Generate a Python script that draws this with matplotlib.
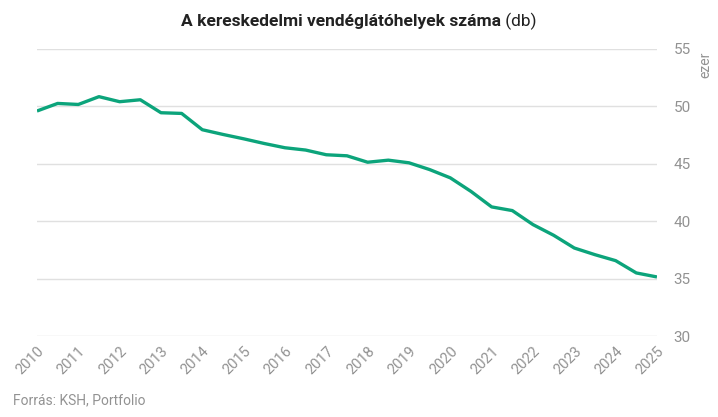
import matplotlib
matplotlib.use("Agg")
import matplotlib.pyplot as plt
import numpy as np

years = [2010 + 0.5 * i for i in range(31)]
values = [49.6, 50.26, 50.17, 50.85, 50.41, 50.58, 49.45, 49.39, 47.97, 47.56,
          47.18, 46.77, 46.4, 46.2, 45.79, 45.7, 45.14, 45.32, 45.09, 44.5,
          43.78, 42.6, 41.25, 40.93, 39.71, 38.78, 37.67, 37.09, 36.57, 35.5, 35.15]
xtick_labels = [str(y) for y in range(2010, 2026)]
yticks = [30, 35, 40, 45, 50, 55]

plt.rcParams['font.family'] = ['Roboto', 'DejaVu Sans']

fig = plt.figure(figsize=(7.18, 4.17), dpi=100)
ax = fig.add_axes([0.0515, 0.194, 0.915 - 0.0515, 0.8825 - 0.194])

ax.plot(years, values, color='#0ca47b', lw=2.4, solid_capstyle='butt', zorder=3)

ax.set_ylim(30, 55)
ax.set_xlim(2010, 2025)
ax.set_yticks(yticks)
ax.yaxis.tick_right()
ax.grid(axis='y', color='#e0e0e0', lw=1)
ax.set_axisbelow(True)
for s in ax.spines.values():
    s.set_visible(False)
ax.tick_params(axis='y', length=0, pad=12, labelsize=11, labelcolor='#929292')
ax.set_xticks(range(2010, 2026))
ax.set_xticklabels(xtick_labels, rotation=45, ha='right', rotation_mode='anchor')
ax.tick_params(axis='x', length=0, pad=6, labelsize=10.5, labelcolor='#929292')

fig.text(0.982, 0.845, 'ezer', rotation=90, ha='center', va='center', fontsize=10, color='#929292')

t1 = fig.text(0.5, 0.948, 'A kereskedelmi vendéglátóhelyek száma', ha='right', va='center',
              fontsize=12.5, fontweight='bold', color='#222222')
tx = fig.text(0.5, 0.948, ' (db)', ha='left', va='center', fontsize=12.5, color='#222222')
fig.canvas.draw()
bb = t1.get_window_extent()
bb2 = tx.get_window_extent()
total = bb.width + bb2.width
left = 359 - total / 2
t1.set_x((left + bb.width) / 718)
tx.set_x((left + bb.width) / 718)

fig.text(0.018, 0.04, 'Forrás: KSH, Portfolio', ha='left', va='center', fontsize=10, color='#929292')

fig.savefig('out.png', dpi=100, facecolor='white')
